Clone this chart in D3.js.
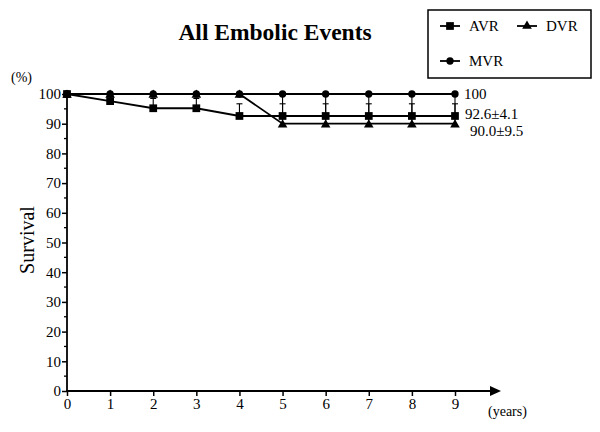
<!DOCTYPE html>
<html><head><meta charset="utf-8">
<script src="https://cdn.jsdelivr.net/npm/d3@7"></script>
<style>body{margin:0;background:#fff}svg{display:block}text{font-family:"Liberation Serif","Times New Roman",serif;fill:#000}</style>
</head><body>
<svg id="c" width="600" height="432"></svg>
<script>
const years = [0,1,2,3,4,5,6,7,8,9];
const avr = [100,97.6,95.2,95.2,92.6,92.6,92.6,92.6,92.6,92.6];
const avrErr = [0,0,3.3,3.3,4.1,4.1,4.1,4.1,4.1,4.1];
const dvr = [100,100,100,100,100,90,90,90,90,90];
const dvrErr = [0,0,0,0,0,9.5,9.5,9.5,9.5,9.5];
const mvr = [100,100,100,100,100,100,100,100,100,100];
const yTicks = [0,10,20,30,40,50,60,70,80,90,100];
const endLabels = [{t:"100",v:100,dx:9,dy:0},{t:"92.6±4.1",v:92.6,dx:10,dy:-2},{t:"90.0±9.5",v:90,dx:15,dy:7}];

const FONT = "Liberation Serif";
const svg = d3.select("#c");
const x = d3.scaleLinear().domain([0,9]).range([67,455]);
const y = d3.scaleLinear().domain([0,100]).range([391,94]);

// title
svg.append("text").attr("x",275).attr("y",40).attr("text-anchor","middle")
  .attr("font-family",FONT).style("font-size","23.5px").style("font-weight","bold").text("All Embolic Events");

// axes
const ya = svg.append("g").attr("transform","translate(67,0)")
  .call(d3.axisLeft(y).tickValues(yTicks).tickSize(5).tickPadding(1).tickFormat(d3.format("d")));
ya.attr("font-family",FONT).attr("font-size",15);
ya.select(".domain").attr("stroke","#000").attr("stroke-width",1.8).attr("d","M0,391V94");
ya.selectAll(".tick line").attr("stroke-width",1.5);
const yMinor = d3.range(5,100,10);
svg.append("g").selectAll("line").data(yMinor).join("line")
  .attr("x1",64).attr("x2",67).attr("y1",d=>y(d)).attr("y2",d=>y(d)).attr("stroke","#000").attr("stroke-width",1.3);

const xa = svg.append("g").attr("transform","translate(0,391)")
  .call(d3.axisBottom(x).tickValues(years).tickSize(5).tickPadding(2).tickFormat(d3.format("d")));
xa.attr("font-family",FONT).attr("font-size",15);
xa.select(".domain").remove();
xa.selectAll(".tick line").attr("stroke-width",1.5);
svg.append("line").attr("x1",66).attr("x2",492).attr("y1",391).attr("y2",391).attr("stroke","#000").attr("stroke-width",2);
svg.append("path").attr("d","M490,386L501,391L490,396Z").attr("fill","#000");

svg.append("text").attr("x",11).attr("y",82).attr("font-family",FONT).style("font-size","14px").text("(%)");
svg.append("text").attr("transform","translate(34,240) rotate(-90)").attr("text-anchor","middle").attr("font-family",FONT).style("font-size","20px").text("Survival");
svg.append("text").attr("x",488).attr("y",416).attr("font-family",FONT).style("font-size","14px").text("(years)");

const line = d3.line().x((d,i)=>x(years[i])).y(d=>y(d));
const g = svg.append("g");
function errBars(vals, errs){
  years.forEach((yr,i)=>{ if(errs[i]>0){
    g.append("line").attr("x1",x(yr)).attr("x2",x(yr)).attr("y1",y(vals[i])).attr("y2",y(vals[i]+errs[i])).attr("stroke","#000").attr("stroke-width",1.1);
    g.append("line").attr("x1",x(yr)-3).attr("x2",x(yr)+3).attr("y1",y(vals[i]+errs[i])).attr("y2",y(vals[i]+errs[i])).attr("stroke","#000").attr("stroke-width",1.1);
  }});
}
errBars(avr,avrErr);
errBars(dvr,dvrErr);
[avr,dvr,mvr].forEach(s=>g.append("path").attr("d",line(s)).attr("fill","none").attr("stroke","#000").attr("stroke-width",1.8));

const sq = d3.symbol().type(d3.symbolSquare).size(60);
const tri = d3.symbol().type(d3.symbolTriangle).size(40);
const cir = d3.symbol().type(d3.symbolCircle).size(42);
g.selectAll(".sq").data(avr).join("path").attr("d",sq).attr("transform",(d,i)=>`translate(${x(years[i])},${y(d)})`);
g.selectAll(".tr").data(dvr).join("path").attr("d",tri).attr("transform",(d,i)=>`translate(${x(years[i])},${y(d)+1})`);
g.selectAll(".ci").data(mvr).join("path").attr("d",cir).attr("transform",(d,i)=>`translate(${x(years[i])},${y(d)})`);

endLabels.forEach(l=>svg.append("text").attr("x",x(9)+l.dx).attr("y",y(l.v)+l.dy).attr("dy","0.35em").attr("font-family",FONT).style("font-size","15px").text(l.t));

// legend
const lg = svg.append("g");
lg.append("rect").attr("x",428).attr("y",10).attr("width",163).attr("height",68).attr("fill","#fff").attr("stroke","#000").attr("stroke-width",1.5);
const legend = [{n:"AVR",s:sq,x:440,y:26},{n:"DVR",s:tri,x:517,y:26},{n:"MVR",s:cir,x:440,y:61}];
legend.forEach(e=>{
  lg.append("line").attr("x1",e.x).attr("x2",e.x+20).attr("y1",e.y).attr("y2",e.y).attr("stroke","#000").attr("stroke-width",1.8);
  lg.append("path").attr("d",e.s).attr("transform",`translate(${e.x+10},${e.y})`);
  lg.append("text").attr("x",e.x+29).attr("y",e.y).attr("dy","0.35em").attr("font-family",FONT).style("font-size","15px").text(e.n);
});
</script>
</body></html>
